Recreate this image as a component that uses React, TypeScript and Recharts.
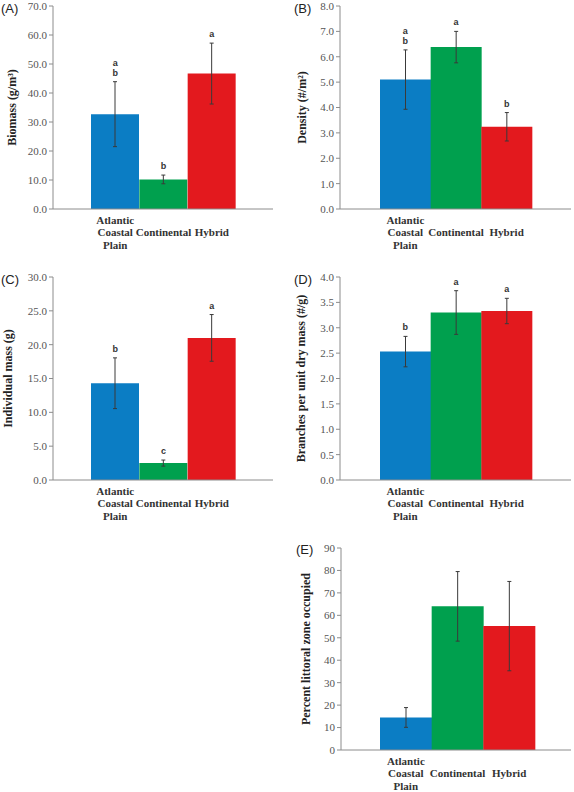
import { ComposedChart, Bar, Line, XAxis, YAxis, Cell, ErrorBar, Label } from 'recharts';

const categories = ['Atlantic\nCoastal\nPlain', 'Continental', 'Hybrid'];
const barColors = ['#0b7dc4', '#00a04e', '#e3191e'];

const biomass = [32.7, 10.2, 46.7];
const biomassErr = [11.2, 1.5, 10.5];
const biomassLetters = [['a', 'b'], ['b'], ['a']];
const biomassTicks = [0, 10, 20, 30, 40, 50, 60, 70];

const density = [5.1, 6.38, 3.24];
const densityErr = [1.17, 0.62, 0.56];
const densityLetters = [['a', 'b'], ['a'], ['b']];
const densityTicks = [0, 1, 2, 3, 4, 5, 6, 7, 8];

const indivMass = [14.3, 2.5, 21.0];
const indivMassErr = [3.75, 0.45, 3.45];
const indivMassLetters = [['b'], ['c'], ['a']];
const indivMassTicks = [0, 5, 10, 15, 20, 25, 30];

const branches = [2.53, 3.3, 3.33];
const branchesErr = [0.3, 0.43, 0.25];
const branchesLetters = [['b'], ['a'], ['a']];
const branchesTicks = [0, 0.5, 1, 1.5, 2, 2.5, 3, 3.5, 4];

const littoral = [14.5, 64.0, 55.2];
const littoralErr = [4.4, 15.5, 19.9];
const littoralLetters: string[][] = [[], [], []];
const littoralTicks = [0, 10, 20, 30, 40, 50, 60, 70, 80, 90];

const FRAME = '#8c8c8c';
const SERIF = 'Liberation Serif';
const SANS = 'Liberation Sans';

function CategoryTick({ x, y, payload }: any) {
  const lines = String(payload.value).split('\n');
  return (
    <g>
      {lines.map((l, i) => (
        <text
          key={i}
          x={x}
          y={y + 23 + (i - (lines.length - 1) / 2) * 12.5}
          textAnchor="middle"
          dominantBaseline="central"
          fontFamily={SERIF}
          fontWeight="bold"
          fontSize={11}
          fill="#333"
        >
          {l}
        </text>
      ))}
    </g>
  );
}

interface PanelProps {
  tag: string;
  yLabel: string;
  values: number[];
  errs: number[];
  letters: string[][];
  ticks: number[];
  digits: number;
  box: [number, number, number, number]; // chart left, top, width, height
  plot: [number, number, number, number]; // plot left, top, right, bottom (page coords)
  pad: [number, number];
  labelX: number;
  tagPos: [number, number];
}

function Panel(p: PanelProps) {
  const [cx, cy, cw, ch] = p.box;
  const [px0, py0, px1, py1] = p.plot;
  const data = categories.map((c, i) => ({
    name: c,
    value: p.values[i],
    err: p.errs[i],
    top: p.values[i] + p.errs[i],
    letters: p.letters[i],
  }));

  // significance letters sit just above each error bar
  const renderLetters = (d: any) => {
    const ls: string[] = d.payload?.letters ?? [];
    return (
      <g key={`l-${d.index}`}>
        {ls.slice().reverse().map((l, i) => (
          <text
            key={i}
            x={d.cx}
            y={d.cy - 9 - i * 10}
            textAnchor="middle"
            dominantBaseline="central"
            fontFamily={SANS}
            fontWeight="bold"
            fontSize={9}
            fill="#333"
          >
            {l}
          </text>
        ))}
      </g>
    );
  };

  return (
    <>
      <div
        style={{
          position: 'absolute',
          left: p.tagPos[0],
          top: p.tagPos[1],
          fontFamily: SANS,
          fontSize: 13,
          lineHeight: '13px',
          color: '#222',
        }}
      >
        {p.tag}
      </div>
      <div style={{ position: 'absolute', left: cx, top: cy }}>
        <ComposedChart
          width={cw}
          height={ch}
          data={data}
          barCategoryGap={0}
          margin={{ top: py0 - cy, right: cx + cw - px1, bottom: 0, left: 0 }}
        >
          <XAxis
            dataKey="name"
            height={cy + ch - py1}
            padding={{ left: p.pad[0], right: p.pad[1] }}
            axisLine={{ stroke: FRAME }}
            tickLine={false}
            tickSize={0}
            tickMargin={0}
            interval={0}
            tick={<CategoryTick />}
          />
          <XAxis xAxisId="t" orientation="top" height={0} tick={false} tickLine={false} axisLine={{ stroke: FRAME }} />
          <YAxis
            width={px0 - cx}
            domain={[0, p.ticks[p.ticks.length - 1]]}
            ticks={p.ticks}
            interval={0}
            tickFormatter={(v: number) => v.toFixed(p.digits)}
            axisLine={{ stroke: FRAME }}
            tickLine={{ stroke: FRAME }}
            tickSize={4}
            tickMargin={2}
            tick={{ fill: '#555', fontSize: 11, fontFamily: SERIF }}
          >
            <Label
              content={(lp: any) => {
                const vb = lp.viewBox || { x: 0, y: 0, width: 0, height: 0 };
                const tx = vb.x + p.labelX;
                const ty = vb.y + vb.height / 2;
                return (
                  <text
                    x={tx}
                    y={ty}
                    transform={`rotate(-90 ${tx} ${ty})`}
                    textAnchor="middle"
                    dominantBaseline="central"
                    fontFamily={SERIF}
                    fontWeight="bold"
                    fontSize={12}
                    fill="#222"
                  >
                    {p.yLabel}
                  </text>
                );
              }}
            />
          </YAxis>
          <YAxis yAxisId="r" orientation="right" width={0} domain={[0, 1]} tick={false} tickLine={false} axisLine={{ stroke: FRAME }} />
          <Bar dataKey="value" isAnimationActive={false}>
            {data.map((_, i) => (
              <Cell key={i} fill={barColors[i]} />
            ))}
            <ErrorBar dataKey="err" width={2} stroke="#3a3a3a" strokeWidth={1} />
          </Bar>
          <Line dataKey="top" stroke="none" dot={renderLetters} activeDot={false} isAnimationActive={false} legendType="none" />
        </ComposedChart>
      </div>
    </>
  );
}

export default function App() {
  return (
    <div style={{ position: 'absolute', left: 0, top: 0, width: 574, height: 792, background: '#fff' }}>
      <Panel
        tag="(A)"
        yLabel="Biomass (g/m³)"
        values={biomass}
        errs={biomassErr}
        letters={biomassLetters}
        ticks={biomassTicks}
        digits={1}
        box={[0, 0, 290, 262]}
        plot={[53, 6, 273, 209]}
        pad={[38, 37]}
        labelX={12}
        tagPos={[1, 2]}
      />
      <Panel
        tag="(B)"
        yLabel="Density (#/m²)"
        values={density}
        errs={densityErr}
        letters={densityLetters}
        ticks={densityTicks}
        digits={1}
        box={[290, 0, 284, 262]}
        plot={[340, 6, 571, 209]}
        pad={[40, 39]}
        labelX={12}
        tagPos={[294, 2]}
      />
      <Panel
        tag="(C)"
        yLabel="Individual mass (g)"
        values={indivMass}
        errs={indivMassErr}
        letters={indivMassLetters}
        ticks={indivMassTicks}
        digits={1}
        box={[0, 266, 290, 262]}
        plot={[53, 277, 273, 480]}
        pad={[38, 37]}
        labelX={8}
        tagPos={[1, 273]}
      />
      <Panel
        tag="(D)"
        yLabel="Branches per unit dry mass (#/g)"
        values={branches}
        errs={branchesErr}
        letters={branchesLetters}
        ticks={branchesTicks}
        digits={1}
        box={[290, 266, 284, 262]}
        plot={[340, 277, 571, 480]}
        pad={[40, 39]}
        labelX={11}
        tagPos={[294, 273]}
      />
      <Panel
        tag="(E)"
        yLabel="Percent littoral zone occupied"
        values={littoral}
        errs={littoralErr}
        letters={littoralLetters}
        ticks={littoralTicks}
        digits={0}
        box={[290, 536, 284, 256]}
        plot={[341, 548, 571, 750]}
        pad={[39, 36]}
        labelX={16}
        tagPos={[296, 543]}
      />
    </div>
  );
}
